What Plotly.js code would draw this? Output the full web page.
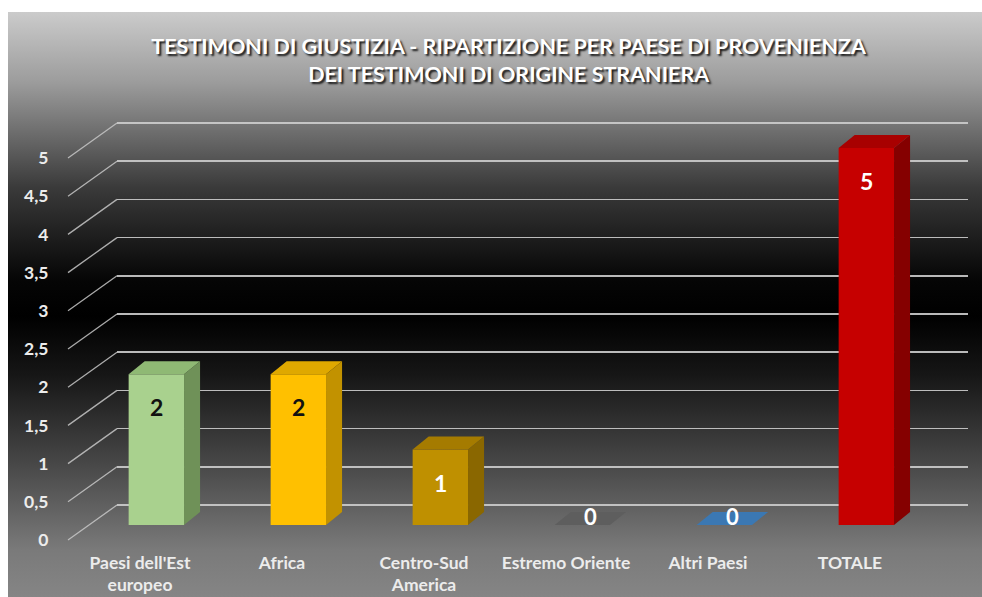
<!DOCTYPE html>
<html>
<head>
<meta charset="utf-8">
<script src="https://cdn.plot.ly/plotly-3.0.1.min.js"></script>
<style>
  html, body { margin: 0; padding: 0; background: #ffffff; }
  #bg {
    position: absolute; left: 8px; top: 12px; width: 974px; height: 585px;
    background: linear-gradient(to bottom, #cbcbcb 0%, #9c9c9c 12%, #3a3a3a 30%, #050505 46%, #000000 52%, #161616 62%, #4a4a4a 78%, #7a7a7a 92%, #858585 100%);
  }
  #chart { position: absolute; left: 0; top: 0; width: 982px; height: 597px; }
</style>
</head>
<body>
<div id="bg"></div>
<div id="chart"></div>
<script>
// ---- data ----
const categories = ["Paesi dell'Est<br>europeo", "Africa", "Centro-Sud<br>America", "Estremo Oriente", "Altri Paesi", "TOTALE"];
const values = [2, 2, 1, 0, 0, 5];
const yTickVals = [0, 0.5, 1, 1.5, 2, 2.5, 3, 3.5, 4, 4.5, 5];
const yTickText = ["0", "0,5", "1", "1,5", "2", "2,5", "3", "3,5", "4", "4,5", "5"];
const titleText = "TESTIMONI DI GIUSTIZIA - RIPARTIZIONE PER PAESE DI PROVENIENZA<br>DEI TESTIMONI DI ORIGINE STRANIERA";

// ---- styles ----
const frontColors = ["#a9d18e", "#ffc000", "#bf9000", "#5e5e5e", "#3b78b3", "#c60000"];
const topColors   = ["#8fb974", "#dfa800", "#a57b00", "#5e5e5e", "#3b78b3", "#a80000"];
const sideColors  = ["#6f9158", "#c29200", "#8a6700", "#4a4a4a", "#2f5f8e", "#850000"];
const labelColors = ["#111111", "#111111", "#ffffff", "#ffffff", "#ffffff", "#ffffff"];

const BAR_W = 0.39, BAR_OFF = -0.08;   // bar width / offset in category units
const DX = 0.113, DY = 0.172;          // 3D depth in data units
const FONT = "Lato, 'Open Sans', sans-serif";

const xs = categories.map((c, i) => i);

const shapes = [];
// diagonal "floor/wall" lines joining front labels to back grid
yTickVals.forEach(v => {
  shapes.push({
    type: 'line', layer: 'below',
    xref: 'paper', xsizemode: 'pixel', xanchor: 0, x0: -49, x1: 0,
    yref: 'y2', ysizemode: 'pixel', yanchor: v, y0: -35, y1: 0,
    line: { color: 'rgba(200,200,200,0.85)', width: 1.3 }
  });
});
// 3D faces of bars
values.forEach((v, i) => {
  const x0 = xs[i] + BAR_OFF, x1 = x0 + BAR_W;
  if (v > 0) {
    shapes.push({
      type: 'path', xref: 'x', yref: 'y', layer: 'above',
      path: `M${x1},0 L${x1},${v} L${x1 + DX},${v + DY} L${x1 + DX},${DY} Z`,
      fillcolor: sideColors[i], line: { width: 0 }
    });
  }
  shapes.push({
    type: 'path', xref: 'x', yref: 'y', layer: 'above',
    path: `M${x0},${v} L${x1},${v} L${x1 + DX},${v + DY} L${x0 + DX},${v + DY} Z`,
    fillcolor: topColors[i], line: { width: 0 }
  });
});

const annotations = values.map((v, i) => {
  const cx = xs[i] + BAR_OFF + BAR_W / 2;
  if (v > 0) {
    return { x: cx, y: v, xref: 'x', yref: 'y', text: String(v), showarrow: false,
      yshift: -33, font: { family: FONT, size: 23, weight: 'bold', color: labelColors[i] } };
  }
  return { x: cx + DX / 2, y: v + DY / 2, xref: 'x', yref: 'y', text: String(v), showarrow: false,
    yshift: 2, font: { family: FONT, size: 22, weight: 'bold', color: labelColors[i] } };
});

const traces = [
  {
    type: 'bar', x: xs, y: values, width: BAR_W, offset: BAR_OFF,
    xaxis: 'x', yaxis: 'y',
    marker: { color: frontColors, line: { width: 0 } },
    hoverinfo: 'skip'
  },
  { // invisible companion trace so the front tick-label axis is drawn
    type: 'scatter', mode: 'markers', x: xs, y: values, xaxis: 'x', yaxis: 'y3',
    marker: { opacity: 0 }, hoverinfo: 'skip'
  }
];

const tickFont = { family: FONT, size: 17.5, weight: 'bold', color: '#ececec' };

const layout = {
  width: 982, height: 597,
  margin: { l: 117, r: 14, t: 100, b: 47 },
  paper_bgcolor: 'rgba(0,0,0,0)', plot_bgcolor: 'rgba(0,0,0,0)',
  separators: ',.',
  showlegend: false,
  title: {
    text: titleText, x: 0.518, xanchor: 'center', y: 1 - 54 / 597, yanchor: 'middle', yref: 'container',
    font: { family: FONT, size: 21.5, weight: 'bold', color: '#ffffff', shadow: '2px 2px 2px #1a1a1a' }
  },
  xaxis: {
    range: [-0.162, 5.831], tickvals: xs, ticktext: categories,
    showgrid: false, zeroline: false, showline: false, ticks: '',
    tickfont: tickFont, fixedrange: true
  },
  yaxis: {
    range: [-0.332, 5.637], showgrid: false, zeroline: false, showticklabels: false, fixedrange: true
  },
  yaxis2: {
    overlaying: 'y', anchor: 'x', side: 'left', range: [-0.589, 5.301],
    tickvals: yTickVals, showticklabels: false, showgrid: true,
    gridcolor: 'rgba(205,205,205,0.9)', gridwidth: 1.5, zeroline: false, ticks: '', fixedrange: true
  },
  yaxis3: {
    overlaying: 'y', anchor: 'x', side: 'left', range: [-0.131, 5.759],
    tickvals: yTickVals, ticktext: yTickText, showgrid: false, zeroline: false,
    ticks: 'outside', ticklen: 64, tickcolor: 'rgba(0,0,0,0)', tickfont: tickFont, fixedrange: true
  },
  shapes: shapes,
  annotations: annotations
};

Plotly.newPlot('chart', traces, layout, { displayModeBar: false, staticPlot: true });
</script>
</body>
</html>
